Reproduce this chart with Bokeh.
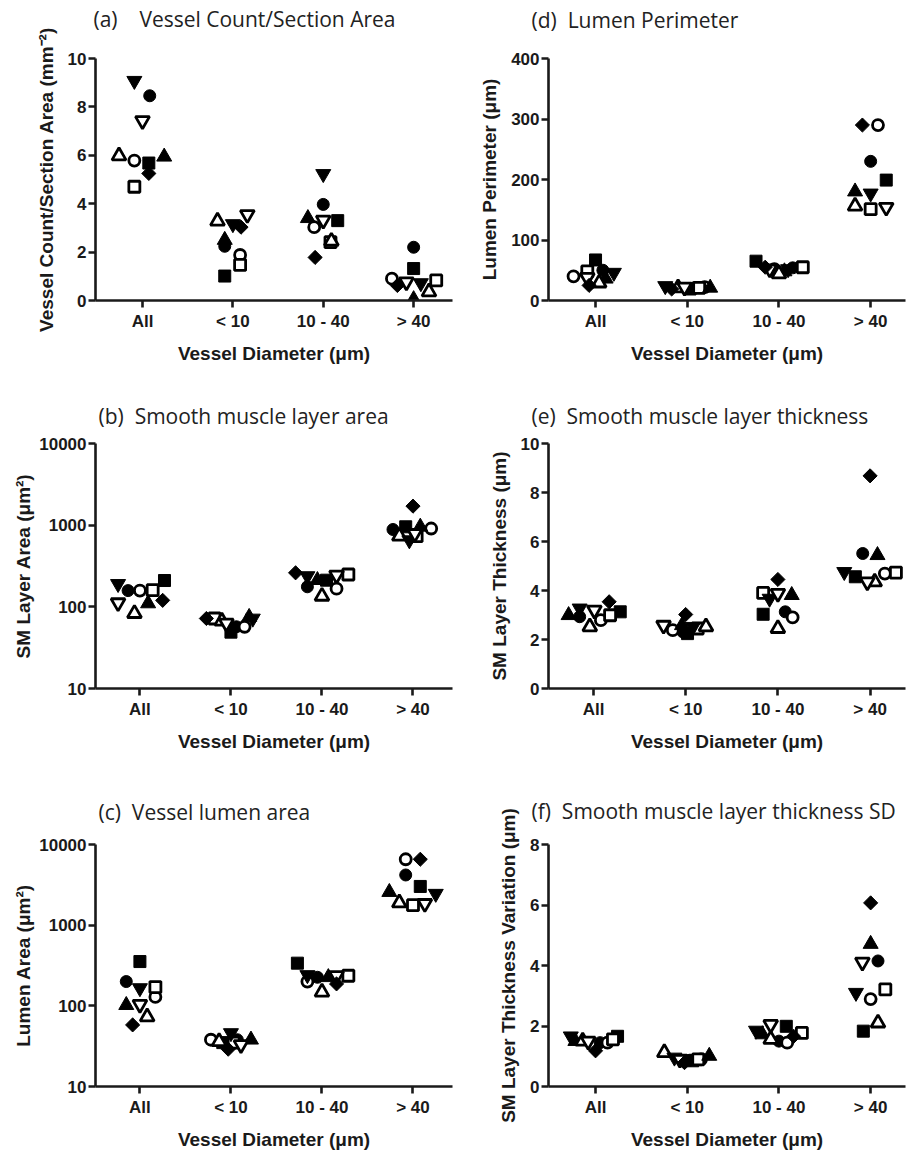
import numpy as np
from bokeh.plotting import figure
from bokeh.layouts import gridplot
from bokeh.models import FixedTicker, Range1d, ColumnDataSource, PrintfTickFormatter, Title
from bokeh.embed import file_html
from bokeh.resources import INLINE

CATEGORIES = ["All", "< 10", "10 - 40", "> 40"]
# subjects (one marker each), in this order in every value row
SUBJECTS = ["S1", "S2", "S3", "S4", "S5", "S6", "S7", "S8", "S9"]

# ---- (a) vessel count / section area (mm^-2); rows = categories
a_values = [[8.46, 5.78, 5.68, 4.70, 5.94, 5.98, 9.08, 7.43, 5.25],
            [2.24, 1.88, 1.01, 1.47, 2.50, 3.28, 3.16, 3.55, 3.03],
            [3.97, 3.03, 3.30, 2.41, 3.40, 2.45, 5.23, 3.32, 1.78],
            [2.20, 0.90, 1.32, 0.83, 0.05, 0.36, 0.72, 0.77, 0.62]]
a_jitter = [[0.08, -0.09, 0.07, -0.09, 0.24, -0.26, -0.09, 0.0, 0.07],
            [-0.09, 0.08, -0.09, 0.08, -0.09, -0.17, 0.0, 0.16, 0.09],
            [0.0, -0.10, 0.16, 0.08, -0.17, 0.09, 0.0, 0.0, -0.09],
            [0.0, -0.24, 0.0, 0.25, 0.0, 0.17, 0.08, -0.08, -0.18]]

# ---- (d) lumen perimeter (um)
d_values = [[50, 40, 67, 48, 36, 29, 46, 38, 25],
            [21, 22, 19, 21, 21, 21, 24, 22, 19],
            [54, 52, 65, 55, 48, 44, 52, 52, 55],
            [230, 290, 199, 151, 180, 156, 177, 154, 290]]
d_jitter = [[0.08, -0.24, 0.0, -0.09, 0.11, 0.04, 0.20, -0.09, -0.07],
            [0.08, 0.19, 0.03, 0.13, 0.25, -0.10, -0.24, -0.03, -0.17],
            [0.15, -0.05, -0.25, 0.26, 0.06, 0.0, 0.10, -0.10, -0.15],
            [0.0, 0.08, 0.17, 0.0, -0.17, -0.17, 0.0, 0.17, -0.09]]

# ---- (b) smooth muscle layer area (um^2)
b_values = [[158, 158, 210, 160, 110, 83, 191, 112, 120],
            [57, 57, 49, 72, 75, 67, 72, 63, 72],
            [176, 167, 212, 249, 212, 135, 238, 244, 261],
            [885, 910, 955, 733, 955, 733, 655, 790, 1710]]
b_jitter = [[-0.13, 0.0, 0.27, 0.14, 0.09, -0.06, -0.24, -0.24, 0.25],
            [0.06, 0.15, 0.0, -0.18, 0.20, -0.10, 0.24, -0.05, -0.27],
            [-0.16, 0.16, 0.05, 0.29, -0.05, 0.0, -0.16, 0.16, -0.29],
            [-0.22, 0.20, -0.08, 0.04, 0.08, -0.15, -0.04, 0.02, 0.0]]

# ---- (e) smooth muscle layer thickness (um)
e_values = [[2.93, 2.79, 3.13, 2.99, 2.99, 2.52, 3.27, 3.20, 3.54],
            [2.31, 2.38, 2.24, 2.45, 2.58, 2.52, 2.52, 2.58, 3.02],
            [3.13, 2.90, 3.03, 3.90, 3.81, 2.45, 3.67, 3.88, 4.45],
            [5.51, 4.69, 4.56, 4.73, 5.44, 4.35, 4.76, 4.35, 8.68]]
e_jitter = [[-0.15, 0.08, 0.29, 0.18, -0.27, -0.04, -0.15, 0.01, 0.17],
            [-0.03, -0.14, 0.02, 0.13, -0.04, 0.22, 0.08, -0.24, 0.0],
            [0.08, 0.16, -0.16, -0.16, 0.15, 0.0, -0.09, 0.0, 0.0],
            [-0.08, 0.16, -0.16, 0.28, 0.08, 0.05, -0.28, -0.03, 0.0]]

# ---- (c) vessel lumen area (um^2)
c_values = [[200, 129, 354, 171, 102, 73, 166, 104, 58],
            [38, 38, 35, 35, 38, 36, 46, 33, 29],
            [226, 200, 338, 236, 226, 148, 241, 236, 187],
            [4190, 6560, 3020, 1770, 2570, 1888, 2455, 1855, 6560]]
c_jitter = [[-0.15, 0.17, 0.0, 0.17, -0.15, 0.08, 0.0, 0.0, -0.08],
            [0.07, -0.22, -0.09, 0.03, 0.22, -0.13, 0.0, 0.11, -0.03],
            [-0.05, -0.16, -0.27, 0.29, 0.07, 0.0, -0.16, 0.16, 0.16],
            [-0.08, -0.08, 0.08, 0.0, -0.26, -0.15, 0.25, 0.13, 0.08]]

# ---- (f) smooth muscle layer thickness SD (um)
f_values = [[1.45, 1.45, 1.66, 1.56, 1.50, 1.50, 1.66, 1.50, 1.18],
            [0.87, 0.90, 0.85, 0.90, 1.01, 1.12, 0.96, 0.90, 0.79],
            [1.50, 1.45, 1.99, 1.77, 1.72, 1.56, 1.85, 2.05, 1.66],
            [4.15, 2.89, 1.83, 3.21, 4.71, 2.10, 3.10, 4.11, 6.07]]
f_jitter = [[0.05, 0.13, 0.24, 0.19, -0.22, -0.14, -0.27, -0.08, 0.0],
            [0.03, 0.15, 0.06, 0.12, 0.24, -0.25, -0.14, -0.08, -0.03],
            [0.0, 0.09, 0.08, 0.25, -0.18, -0.09, -0.25, -0.09, 0.16],
            [0.08, 0.0, -0.08, 0.16, 0.0, 0.08, -0.16, -0.09, 0.0]]

# marker style per subject: (marker, filled, size, angle)
STYLE = {
    "S1": ("circle", True, 12, 0.0),
    "S2": ("circle", False, 11, 0.0),
    "S3": ("square", True, 12, 0.0),
    "S4": ("square", False, 11, 0.0),
    "S5": ("triangle", True, 15, 0.0),
    "S6": ("triangle", False, 14, 0.0),
    "S7": ("inverted_triangle", True, 15, 0.0),
    "S8": ("inverted_triangle", False, 14, 0.0),
    "S9": ("square", True, 10, np.pi / 4),
}

TICK_FONT = "Liberation Sans"
TITLE_FONT = "Open Sans"


def make_panel(title, ylabel, values, jitter, yr, log, yticks, h, left, top, bottom,
               xr, title_offset, gap, ylab_standoff):
    p = figure(width=453, height=h, output_backend="svg", toolbar_location=None,
               y_axis_type="log" if log else "linear",
               x_range=Range1d(*xr), y_range=Range1d(*yr),
               min_border_left=left, min_border_right=1,
               min_border_top=top, min_border_bottom=bottom)
    # real title (outer) plus a tiny spacer title between it and the frame
    p.title.text = title
    p.title.text_font = TITLE_FONT
    p.title.text_font_style = "normal"
    p.title.text_font_size = "21px"
    p.title.text_color = "#222222"
    p.title.align = "left"
    p.title.offset = title_offset
    p.title.standoff = 0
    p.add_layout(Title(text="\u00a0", text_font_size="1px", standoff=gap), "above")

    for si, s in enumerate(SUBJECTS):
        xs = [ci + jitter[ci][si] for ci in range(len(CATEGORIES))]
        ys = [values[ci][si] for ci in range(len(CATEGORIES))]
        marker, filled, size, angle = STYLE[s]
        src = ColumnDataSource(dict(x=xs, y=ys))
        if filled:
            p.scatter("x", "y", source=src, marker=marker, size=size, angle=angle,
                      fill_color="black", line_color="black", line_width=1)
        else:
            p.scatter("x", "y", source=src, marker=marker, size=size, angle=angle,
                      fill_color="white", line_color="black", line_width=2.8)

    p.xgrid.visible = False
    p.ygrid.visible = False
    p.outline_line_color = None
    p.background_fill_color = "white"
    p.border_fill_color = "white"

    p.xaxis.ticker = FixedTicker(ticks=[0, 1, 2, 3])
    p.xaxis.major_label_overrides = {i: c for i, c in enumerate(CATEGORIES)}
    p.yaxis.ticker = FixedTicker(ticks=yticks)
    p.yaxis.formatter = PrintfTickFormatter(format="%d")
    p.xaxis.axis_label = "Vessel Diameter (μm)"
    p.yaxis.axis_label = ylabel
    for ax in (p.xaxis[0], p.yaxis[0]):
        ax.axis_line_width = 2.6
        ax.axis_line_color = "#1a1a1a"
        ax.major_tick_line_width = 2.6
        ax.major_tick_line_color = "#1a1a1a"
        ax.major_tick_out = 7
        ax.major_tick_in = 0
        ax.minor_tick_out = 0
        ax.minor_tick_in = 0
        ax.major_label_text_font = TICK_FONT
        ax.major_label_text_font_style = "bold"
        ax.major_label_text_font_size = "17px"
        ax.major_label_text_color = "#1a1a1a"
        ax.axis_label_text_font = TICK_FONT
        ax.axis_label_text_font_style = "bold"
        ax.axis_label_text_font_size = "19px"
        ax.axis_label_text_color = "#1a1a1a"
    p.xaxis.major_label_standoff = 4
    p.xaxis.axis_label_standoff = 9
    p.yaxis.major_label_standoff = 2
    p.yaxis.axis_label_standoff = ylab_standoff
    return p


pa = make_panel("(a)\u00a0\u00a0\u00a0 Vessel Count/Section Area", "Vessel Count/Section Area (mm⁻²)",
                a_values, a_jitter, (0, 10), False, [0, 2, 4, 6, 8, 10], 380, 95, 58, 80,
                (-0.52, 3.43), -2, 23, 8)
pd_ = make_panel("(d)\u00a0 Lumen Perimeter", "Lumen Perimeter (μm)",
                 d_values, d_jitter, (0, 400), False, [0, 100, 200, 300, 400], 380, 95, 57, 78,
                 (-0.513, 3.38), -17, 22, 8)
pb = make_panel("(b)\u00a0 Smooth muscle layer area", "SM Layer Area (μm²)",
                b_values, b_jitter, (10, 10000), True, [10, 100, 1000, 10000], 380, 90, 63, 72,
                (-0.488, 3.434), 3, 11, 2)
pe = make_panel("(e)\u00a0 Smooth muscle layer thickness", "SM Layer Thickness (μm)",
                e_values, e_jitter, (0, 10), False, [0, 2, 4, 6, 8, 10], 380, 95, 63, 72,
                (-0.488, 3.384), -17, 11, 8)
pc = make_panel("(c)\u00a0 Vessel lumen area", "Lumen Area (μm²)",
                c_values, c_jitter, (10, 10000), True, [10, 100, 1000, 10000], 392, 90, 83, 63,
                (-0.488, 3.434), 3, 16, 2)
pf = make_panel("(f)\u00a0 Smooth muscle layer thickness SD", "SM Layer Thickness Variation (μm)",
                f_values, f_jitter, (0, 8), False, [0, 2, 4, 6, 8], 392, 95, 84, 63,
                (-0.513, 3.38), -17, 17, 8)

grid = gridplot([[pa, pd_], [pb, pe], [pc, pf]], toolbar_location=None)

open("out.html", "w").write(file_html(grid, INLINE))
